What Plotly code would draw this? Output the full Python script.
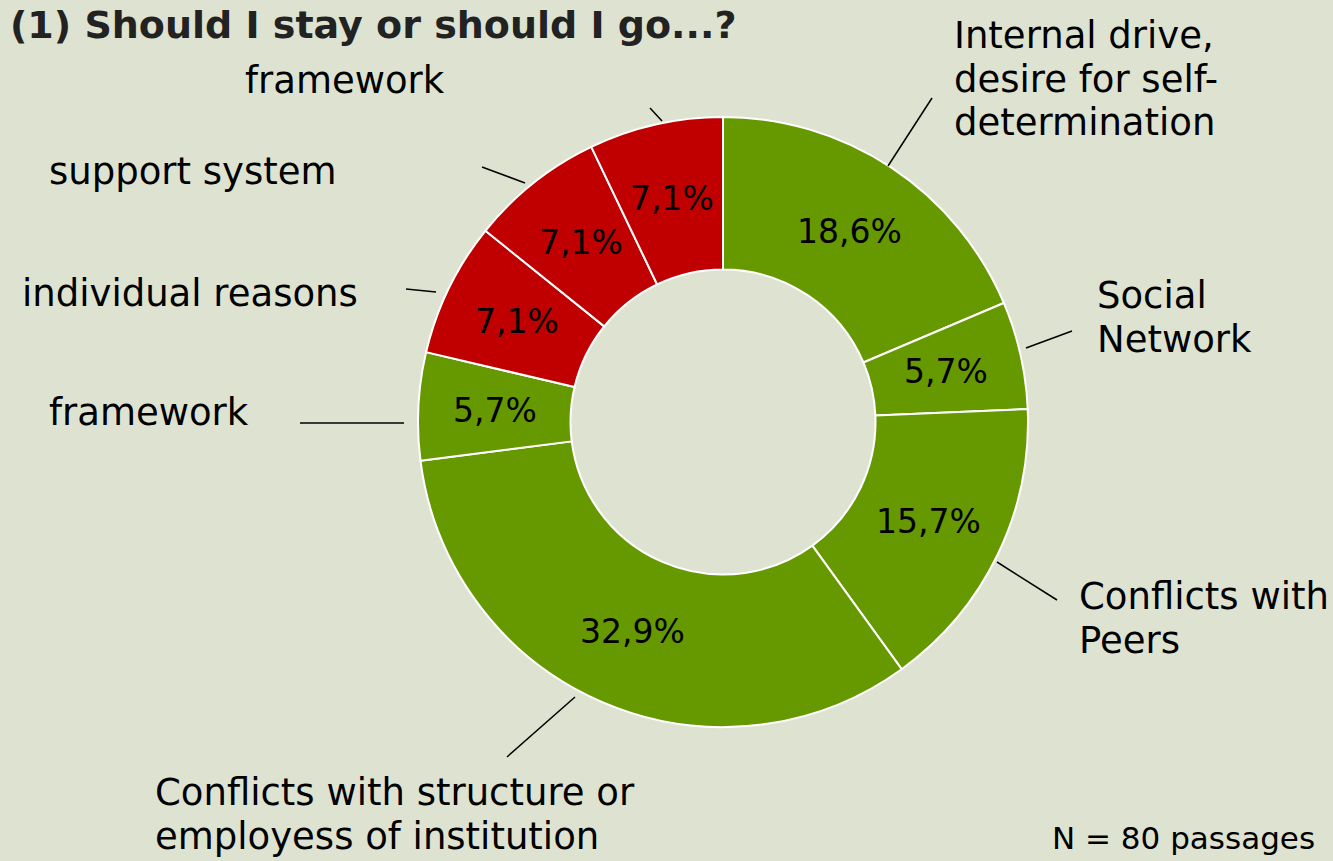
import math
import plotly.graph_objects as go

W, H = 1333, 861

# Data
categories = [
    ["Internal drive,", "desire for self-", "determination"],
    ["Social", "Network"],
    ["Conflicts with", "Peers"],
    ["Conflicts with structure or", "employess of institution"],
    ["framework"],
    ["individual reasons"],
    ["support system"],
    ["framework"],
]
shares = [18.6, 5.7, 15.7, 32.9, 5.7, 7.1, 7.1, 7.1]
pct_labels = ["18,6%", "5,7%", "15,7%", "32,9%", "5,7%", "7,1%", "7,1%", "7,1%"]
groups = ["go", "go", "go", "go", "go", "stay", "stay", "stay"]

GREEN = "#669900"
RED = "#c00000"
colors = [GREEN if g == "go" else RED for g in groups]

FONT = "DejaVu Sans"

def px(x):
    return x / W

def py(y):
    return 1 - y / H

cx, cy, r = 723, 422, 305
hole = 0.5

fig = go.Figure(go.Pie(
    values=shares,
    labels=[f"s{i}" for i in range(len(shares))],
    textinfo="none",
    marker=dict(colors=colors, line=dict(color="white", width=2)),
    hole=hole,
    sort=False,
    direction="clockwise",
    rotation=0,
    showlegend=False,
    hoverinfo="skip",
    domain=dict(x=[px(cx - r), px(cx + r)], y=[py(cy + r), py(cy - r)]),
))

annotations = []

# Percent labels at mid-ring along each slice bisector (derived from the values)
total = sum(shares)
cum = 0.0
rmid = r * (1 + hole) / 2
for v, t in zip(shares, pct_labels):
    a = 2 * math.pi * (cum + v / 2) / total
    cum += v
    lx = cx + rmid * math.sin(a)
    ly = cy - rmid * math.cos(a)
    annotations.append(dict(
        x=px(lx), y=py(ly), xref="paper", yref="paper", text=t, showarrow=False,
        xanchor="center", yanchor="middle",
        font=dict(family=FONT, size=33, color="black"),
    ))

# Outer labels: (x of left edge, y of first line centre)
label_pos = [
    (952, 35),
    (1095, 295),
    (1077, 596),
    (153, 792),
    (47, 412),
    (20, 293),
    (47, 171),
    (243, 80),
]
line_gap = 44
for lines, (x, y) in zip(categories, label_pos):
    for k, ln in enumerate(lines):
        annotations.append(dict(
            x=px(x), y=py(y + k * line_gap), xref="paper", yref="paper",
            text=ln, showarrow=False, xanchor="left", yanchor="middle", align="left",
            font=dict(family=FONT, size=37, color="black"),
        ))

leaders = [
    ((888, 166), (932, 98)),
    ((1026, 348), (1072, 331)),
    ((997, 562), (1057, 600)),
    ((575, 697), (507, 757)),
    ((300, 423), (404, 423)),
    ((406, 289), (436, 292)),
    ((482, 167), (525, 183)),
    ((650, 108), (662, 121)),
]
shapes = []
for (x0, y0), (x1, y1) in leaders:
    shapes.append(dict(type="line", xref="paper", yref="paper",
                       x0=px(x0), y0=py(y0), x1=px(x1), y1=py(y1),
                       line=dict(color="black", width=1.5)))

annotations.append(dict(
    x=px(8), y=py(1), xref="paper", yref="paper",
    text="<b>(1) Should I stay or should I go...?</b>", showarrow=False,
    xanchor="left", yanchor="top",
    font=dict(family=FONT, size=38, color="#222222"),
))
annotations.append(dict(
    x=px(1050), y=py(858), xref="paper", yref="paper",
    text="N = 80 passages", showarrow=False,
    xanchor="left", yanchor="bottom",
    font=dict(family=FONT, size=31, color="black"),
))

fig.update_layout(
    width=W, height=H,
    margin=dict(l=0, r=0, t=0, b=0),
    paper_bgcolor="#dee3d1",
    plot_bgcolor="#dee3d1",
    annotations=annotations,
    shapes=shapes,
)

fig.write_html(
    "out.html",
    config={"displayModeBar": False},
    post_script="document.body.style.margin='0';document.body.style.overflow='hidden';",
)
